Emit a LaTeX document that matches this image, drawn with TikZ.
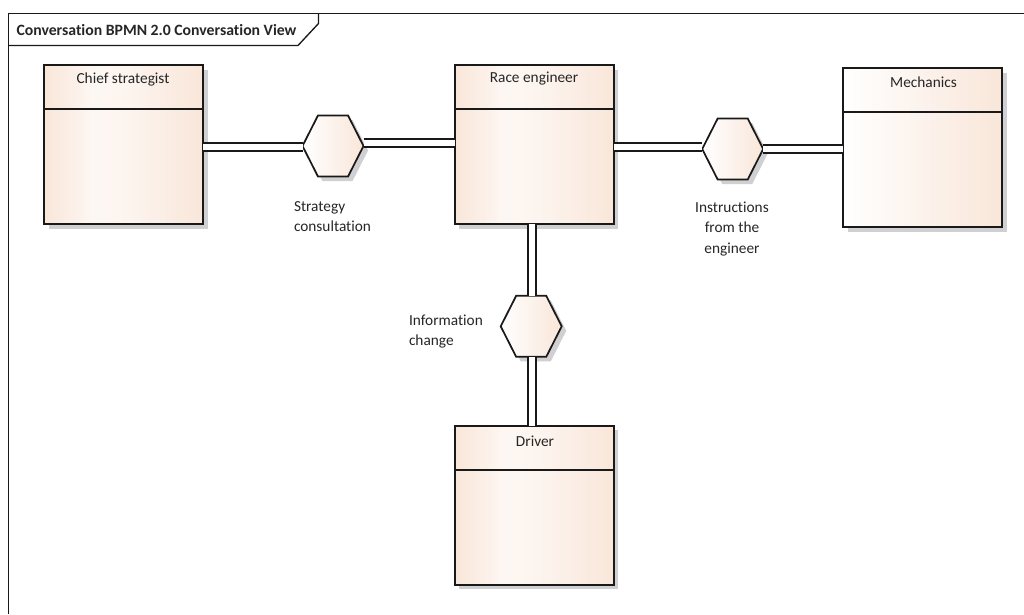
\documentclass[tikz,border=0pt]{standalone}
\usepackage{fontspec}
\setmainfont[Ligatures=NoCommon]{Carlito}
\usetikzlibrary{shadows}
\definecolor{peach}{HTML}{F9E6D9}
\definecolor{shadowgrey}{HTML}{D0D0D2}
\pgfdeclarehorizontalshading{peachthree}{100bp}{color(0bp)=(peach); color(25bp)=(peach); color(41bp)=(white!70!peach); color(55bp)=(white!50!peach); color(75bp)=(peach); color(100bp)=(peach)}
\pgfdeclarehorizontalshading{peachtwo}{100bp}{color(0bp)=(white); color(25bp)=(white); color(75bp)=(peach); color(100bp)=(peach)}
\tikzset{
  px/.style={x=0.75pt,y=-0.75pt},
  softshadow/.style={drop shadow={shadow xshift=3.4pt,shadow yshift=-3.4pt,fill=shadowgrey,opacity=1}},
  lanebox/.style={draw=black!90,line width=1.3pt,rectangle,inner sep=0pt,outer sep=0pt,minimum width=119.25pt,minimum height=119.25pt,softshadow},
  threetone/.style={shading=peachthree},
  twotone/.style={shading=peachtwo},
  hexanchor/.style={inner sep=0pt,outer sep=0pt,minimum width=45.75pt,minimum height=45.75pt},
  hexbody/.style={draw=black!90,line width=1.3pt,line join=miter,softshadow,shading=peachtwo},
  linkline/.style={draw=black!90,line width=1.3pt,double=white,double distance=4.7pt},
  divider/.style={draw=black!90,line width=1.3pt},
  framework/.style={draw=black!90,line width=1pt},
  txt/.style={inner sep=0pt,outer sep=0pt,font=\fontsize{11.5pt}{15.4pt}\selectfont,text=black!85},
}
\newcommand{\hexat}[2]{%
  \node[hexanchor] (#1) at (#2) {};
  \path[hexbody] (#1.west) -- ([xshift=11.6pt]#1.north west) -- ([xshift=-11.6pt]#1.north east)
    -- (#1.east) -- ([xshift=-11.6pt]#1.south east) -- ([xshift=11.6pt]#1.south west) -- cycle;
}
\begin{document}
\begin{tikzpicture}[px]
\useasboundingbox (0,0) rectangle (1024,614);
\fill[white] (0,0) rectangle (1024,614);
% frame
\draw[framework] (8.5,614) -- (8.5,13.5) -- (1024,13.5);
\draw[framework] (8.5,45.5) -- (298,45.5) -- (318.5,23.5) -- (318.5,13.5);
\node[txt,anchor=west,font=\fontsize{11.8pt}{12pt}\selectfont\bfseries] (title) at (16.5,30) {Conversation BPMN 2.0 Conversation View};
% boxes
\node[lanebox,threetone] (chief) at (123.7,144.5) {};
\node[lanebox,threetone] (race) at (534.3,144.5) {};
\node[lanebox,twotone] (mech) at (922.8,147.5) {};
\node[lanebox,threetone] (driver) at (534.3,505.2) {};
\draw[divider] (chief.west |- 0,109) -- (chief.east |- 0,109);
\draw[divider] (race.west |- 0,109) -- (race.east |- 0,109);
\draw[divider] (mech.west |- 0,112.3) -- (mech.east |- 0,112.3);
\draw[divider] (driver.west |- 0,470) -- (driver.east |- 0,470);
\node[txt] (chieft) at (123,79.5) {Chief strategist};
\node[txt] (racet) at (534,79) {Race engineer};
\node[txt] (mecht) at (923.5,82.5) {Mechanics};
\node[txt] (drivert) at (535,441.5) {Driver};
% hexagons
\hexat{hexa}{333,146}
\hexat{hexb}{732.7,149}
\hexat{hexc}{531.2,326.3}
% connectors
\draw[linkline] ([yshift=-0.5pt]hexa.west) -- ([yshift=-0.5pt]hexa.west -| chief.east);
\draw[linkline] ([yshift=2pt]hexa.east) -- ([yshift=2pt]hexa.east -| race.west);
\draw[linkline] ([yshift=1.5pt]hexb.west) -- ([yshift=1.5pt]hexb.west -| race.east);
\draw[linkline] ([yshift=0.2pt]hexb.east) -- ([yshift=0.2pt]hexb.east -| mech.west);
\draw[linkline] ([xshift=0.6pt]hexc.north) -- ([xshift=0.6pt]hexc.north |- race.south);
\draw[linkline] ([xshift=0.6pt]hexc.south) -- ([xshift=0.6pt]hexc.south |- driver.north);
% labels
\node[txt,align=left,anchor=north west] (la) at (294,201.5) {Strategy\\consultation};
\node[txt,align=center,anchor=north] (lb) at (732,201.5) {Instructions\\from the\\engineer};
\node[txt,align=left,anchor=north west] (lc) at (409,314.5) {Information\\change};
\end{tikzpicture}
\end{document}
